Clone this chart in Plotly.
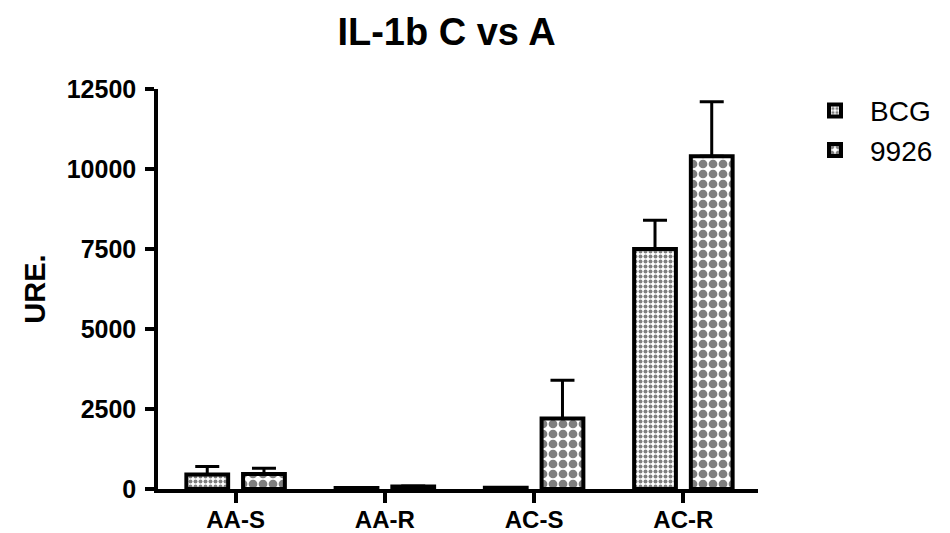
import plotly.graph_objects as go

categories = ["AA-S", "AA-R", "AC-S", "AC-R"]
bcg_values = [450, 30, 40, 7500]
bcg_err = [250, 10, 10, 900]
n9926_values = [470, 80, 2200, 10400]
n9926_err = [180, 15, 1200, 1700]
y_ticks = [0, 2500, 5000, 7500, 10000, 12500]

xs = list(range(len(categories)))
font = "Liberation Sans, Arial, sans-serif"

fig = go.Figure()
fig.add_trace(go.Bar(
    name="BCG", x=xs, y=bcg_values, width=0.28, offset=-0.33,
    marker=dict(color="white", line=dict(color="black", width=4),
                pattern=dict(shape=".", fgcolor="black", bgcolor="white", size=5, solidity=0.5)),
    error_y=dict(type="data", array=bcg_err, arrayminus=[0]*4, symmetric=False,
                 color="black", thickness=3, width=12),
))
fig.add_trace(go.Bar(
    name="9926", x=xs, y=n9926_values, width=0.28, offset=0.05,
    marker=dict(color="white", line=dict(color="black", width=4),
                pattern=dict(shape=".", fgcolor="black", bgcolor="white", size=10, solidity=0.6)),
    error_y=dict(type="data", array=n9926_err, arrayminus=[0]*4, symmetric=False,
                 color="black", thickness=3, width=12),
))

fig.update_layout(
    width=950, height=533,
    margin=dict(l=158, r=189, t=89, b=44),
    paper_bgcolor="white", plot_bgcolor="white",
    title=dict(text="<b>IL-1b C vs A</b>", x=0.47, xanchor="center", y=0.94, yanchor="middle",
               font=dict(family=font, size=38, color="black")),
    showlegend=True,
    legend=dict(x=1.07, y=1.008, xanchor="left", yanchor="top",
                font=dict(family=font, size=28, color="black"),
                itemwidth=60, tracegroupgap=6),
    xaxis=dict(
        range=[-0.52, 3.5], tickmode="array", tickvals=xs,
        ticktext=[f"<b>{c}</b>" for c in categories],
        showline=True, linecolor="black", linewidth=3.5,
        ticks="outside", ticklen=10, tickwidth=3.5, tickcolor="black",
        showgrid=False, zeroline=False, automargin=False,
        ticklabelstandoff=-4,
        tickfont=dict(family=font, size=24, color="black"),
    ),
    yaxis=dict(
        range=[0, 12500], tickmode="array", tickvals=y_ticks,
        ticktext=[f"<b>{v}</b>" for v in y_ticks],
        showline=True, linecolor="black", linewidth=3.5,
        ticks="outside", ticklen=9, tickwidth=3.5, tickcolor="black",
        showgrid=False, zeroline=False, automargin=False,
        ticklabelstandoff=4,
        tickfont=dict(family=font, size=25, color="black"),
        title=dict(text="<b>URE.</b>", font=dict(family=font, size=29, color="black"), standoff=14),
    ),
)

fig.write_html("out.html")
